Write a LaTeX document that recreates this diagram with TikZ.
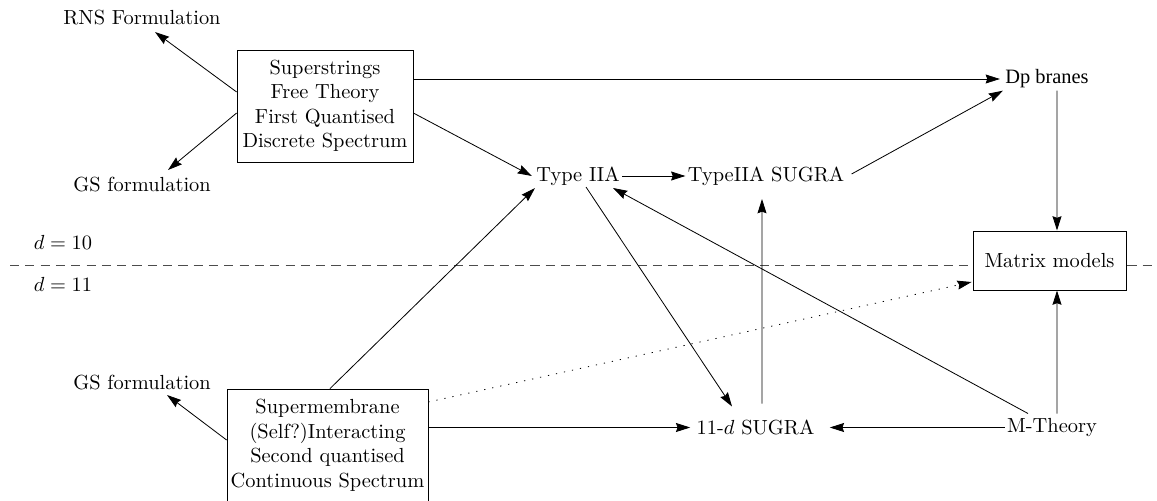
\documentclass[tikz,border=0pt]{standalone}
\usepackage{fontspec}
\usepackage{tikz}
\usetikzlibrary{arrows.meta, calc}
\newfontfamily\dpfont[Ligatures=TeX]{Liberation Serif}
\tikzset{
  lbl/.style={inner sep=1pt},
  theory/.style={draw, fill=white, align=center, inner xsep=1.5pt, inner ysep=0pt},
  link/.style={-{Stealth[length=7pt, width=4.4pt, inset=0.8pt]}},
}

\begin{document}
\begin{tikzpicture}[x=0.49pt, y=0.49pt]
    \path[use as bounding box] (0,0) rectangle (1157,500);
    % d=10 / d=11 split
    \draw[black!70, dash pattern=on 4.5pt off 3pt] (10,235) -- (1157,235);
    \node[lbl] (d10) at (63,258) {$d=10$};
    \node[lbl] (d11) at (63,216) {$d=11$};

    % ten dimensions
    \node[lbl] (rns) at (142,482) {RNS Formulation};
    \node[lbl] (gsa) at (142,315) {GS formulation};
    \node[theory, minimum width=86.2pt, minimum height=54.9pt] (ss) at (325,394)
      {Superstrings\\Free Theory\\First Quantised\\Discrete Spectrum};
    \node[lbl] (t2a) at (578,324) {Type IIA};
    \node[lbl] (s2a) at (766,324) {TypeIIA SUGRA};
    \node[lbl] (dp) at (1047,421) {\dpfont Dp branes};
    \node[theory, minimum width=75pt, minimum height=29pt] (mm) at (1049.5,239.5) {Matrix models};

    % eleven dimensions
    \node[lbl] (gsb) at (142,117) {GS formulation};
    \node[theory, minimum width=98.5pt, minimum height=55.4pt] (sm) at (327.5,54.5)
      {Supermembrane\\(Self?)Interacting\\Second quantised\\Continuous Spectrum};
    \node[lbl] (s11) at (755.5,72.5) {11-$d$ SUGRA};
    \node[lbl] (mth) at (1052,72.5) {M-Theory};

    \draw[link] ($(ss.west)+(0,14)$) -- ($(rns)+(13,-14)$);
    \draw[link] ($(ss.west)+(0,-7)$) -- ($(gsa)+(26,15)$);
    \draw[link] ($(ss.east)+(0,27)$) -- ($(dp.west)+(-3,0)$);
    \draw[link] ($(ss.east)+(0,-7)$) -- ($(t2a.west)+(-2,0)$);
    \draw[link] (t2a.east) -- (s2a.west);
    \draw[link] ($(s2a.east)+(5,2)$) -- (dp.south west);
    \draw[link] ($(dp.south)+(10,0)$) -- ($(mm.north)+(7.5,0)$);
    \draw[link] ($(t2a)+(8,-11)$) -- ($(s11)+(-23.5,21)$);
    \draw[link] ($(s11)+(6.5,24)$) -- ($(s2a)+(-4,-23)$);
    \draw[link] ($(mth)+(-24,14)$) -- ($(t2a)+(35,-12)$);
    \draw[link] ($(mth)+(5,14)$) -- ($(mm.south)+(7.5,0)$);
    \draw[link] (mth.west) -- ($(s11.east)+(13,0)$);
    \draw[link] ($(sm.east)+(0,18)$) -- ($(s11.west)+(-4,0)$);
    \draw[link] ($(sm.north)+(2.5,0)$) -- ($(t2a)+(-43,-12)$);
    \draw[link, dash pattern=on 0.6pt off 3.4pt] ($(sm.east)+(0,43.5)$) -- ($(mm.west)+(-1,-21.5)$);
    \draw[link] ($(sm.west)+(0,5.5)$) -- ($(gsb)+(25,-12)$);
  \end{tikzpicture}
\end{document}
